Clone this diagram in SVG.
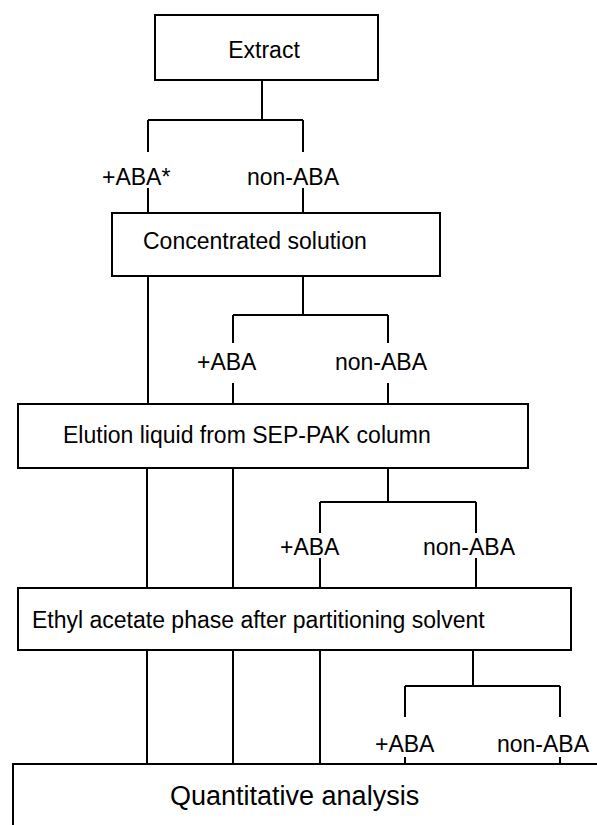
<svg xmlns="http://www.w3.org/2000/svg" width="597" height="825" viewBox="0 0 597 825">
<style>
.box{fill:#fff;stroke:#000;stroke-width:2}
.c{fill:none;stroke:#000;stroke-width:2}
text{font-family:"Liberation Sans",Arial,sans-serif;font-size:23px;fill:#000}
.big{font-size:27px}
</style>
<rect width="597" height="825" fill="#fff"/>
<g id="connectors">
<path class="c" d="M262,80V120M148,120H303M148,120V152M303,120V152M148,188V213M303,188V213"/>
<path class="c" d="M148,276V404M303,276V315M233,315H388M233,315V343M388,315V343M233,383V404M388,383V404"/>
<path class="c" d="M147,468V588M233,468V588M388,468V502M320,502H476M320,502V533M476,502V533M320,558V588M476,558V588"/>
<path class="c" d="M147,650V764M233,650V764M320,650V764M473,650V686M405,686H560M405,686V717M560,686V717M405,757V764M560,757V764"/>
</g>
<g id="labels">
<text x="102" y="185">+ABA*</text>
<text x="247" y="185">non-ABA</text>
<text x="197" y="370">+ABA</text>
<text x="335" y="370">non-ABA</text>
<text x="280" y="555">+ABA</text>
<text x="423" y="555">non-ABA</text>
<text x="375" y="752">+ABA</text>
<text x="497" y="752">non-ABA</text>
</g>
<g id="extract">
<rect class="box" x="155" y="15" width="223" height="65"/>
<text x="264" y="58" text-anchor="middle">Extract</text>
</g>
<g id="concentrated">
<rect class="box" x="112" y="213" width="328" height="63"/>
<text x="143" y="249">Concentrated solution</text>
</g>
<g id="elution">
<rect class="box" x="18" y="404" width="510" height="64"/>
<text x="63" y="443">Elution liquid from SEP-PAK column</text>
</g>
<g id="ethyl">
<rect class="box" x="18" y="588" width="553" height="62"/>
<text x="32" y="628">Ethyl acetate phase after partitioning solvent</text>
</g>
<g id="quant">
<rect class="box" x="13" y="764" width="600" height="100"/>
<text class="big" x="170" y="805">Quantitative analysis</text>
</g>
</svg>
